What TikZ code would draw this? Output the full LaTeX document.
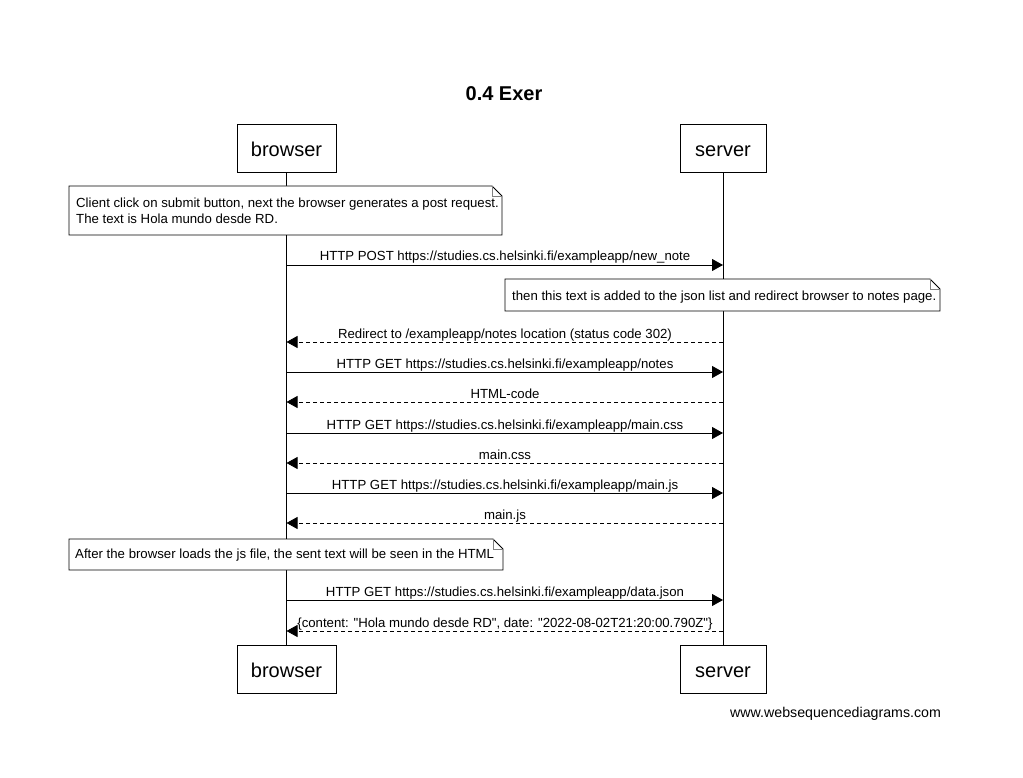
\documentclass[tikz,border=0pt]{standalone}
\usepackage{fontspec}
\setmainfont{Liberation Sans}[Ligatures=TeXOff]
\usetikzlibrary{arrows.meta}

% Note with a folded top-right corner: x1, y1, x2, y2
\newcommand{\dognote}[4]{%
  \draw[line width=0.8pt,fill=white] (#1,#2) -- ({#3-10},#2) -- (#3,{#2+10}) -- (#3,#4) -- (#1,#4) -- cycle;
  \draw[line width=0.6pt,gray] ({#3-10},#2) -- ({#3-10},{#2+10}) -- (#3,{#2+10});%
}

\begin{document}
\begin{tikzpicture}[x=1pt,y=-1pt,
  actor/.style={draw,line width=0.8pt,fill=white,minimum height=48pt,inner sep=0pt,
                text height=17pt,text depth=0pt,font=\fontsize{20}{24}\selectfont},
  life/.style={line width=0.8pt},
  msg/.style={line width=0.8pt,-{Triangle[length=11pt,width=12pt]}},
  reply/.style={msg,dash pattern=on 4pt off 3pt},
  lbl/.style={font=\fontsize{13.2}{15}\selectfont,anchor=base,inner sep=0pt},
  notetext/.style={font=\fontsize{13.2}{16}\selectfont,anchor=base west,inner sep=0pt,align=left},
]
\useasboundingbox[fill=white] (0,0) rectangle (1023,778);

% title
\node[font=\bfseries\fontsize{20}{24}\selectfont,anchor=base,inner sep=0pt] (title) at (504,100.5) {0.4 Exer};

% participants
\node[actor,minimum width=99pt] (bt) at (286.5,148) {browser};
\node[actor,minimum width=86pt] (st) at (723,148) {server};
\node[actor,minimum width=99pt] (bb) at (286.5,669) {browser};
\node[actor,minimum width=86pt] (sb) at (723,669) {server};

% lifelines
\draw[life] (bt.south) -- (bb.north);
\draw[life] (st.south) -- (sb.north);

% notes
\dognote{69}{186}{502}{235}
\node[notetext] (n1a) at (76,207.5) {Client click on submit button, next the browser generates a post request.};
\node[notetext] (n1b) at (76,223.5) {The text is Hola mundo desde RD.};

\dognote{505}{279}{940}{311}
\node[notetext] (n2) at (512,300) {then this text is added to the json list and redirect browser to notes page.};

\dognote{69}{539}{503}{570}
\node[notetext] (n3) at (75,558.5) {After the browser loads the js file, the sent text will be seen in the HTML};

% anchor points on the lifelines
\foreach \i/\y in {1/265,2/342,3/372,4/402,5/433,6/463,7/493,8/523,9/600,10/631}{
  \coordinate (b\i) at (286.5,\y);
  \coordinate (s\i) at (723,\y);
}

% messages
\draw[msg] (b1) -- (s1);
\node[lbl] (m1) at (505,261) {HTTP POST https://studies.cs.helsinki.fi/exampleapp/new\_note};

\draw[reply] (s2) -- (b2);
\node[lbl] (m2) at (505,338) {Redirect to /exampleapp/notes location (status code 302)};

\draw[msg] (b3) -- (s3);
\node[lbl] (m3) at (505,368) {HTTP GET https://studies.cs.helsinki.fi/exampleapp/notes};

\draw[reply] (s4) -- (b4);
\node[lbl] (m4) at (505,398) {HTML-code};

\draw[msg] (b5) -- (s5);
\node[lbl] (m5) at (505,429) {HTTP GET https://studies.cs.helsinki.fi/exampleapp/main.css};

\draw[reply] (s6) -- (b6);
\node[lbl] (m6) at (505,459) {main.css};

\draw[msg] (b7) -- (s7);
\node[lbl] (m7) at (505,489) {HTTP GET https://studies.cs.helsinki.fi/exampleapp/main.js};

\draw[reply] (s8) -- (b8);
\node[lbl] (m8) at (505,519) {main.js};

\draw[msg] (b9) -- (s9);
\node[lbl] (m9) at (505,596) {HTTP GET https://studies.cs.helsinki.fi/exampleapp/data.json};

\draw[reply] (s10) -- (b10);
\node[lbl] (m10) at (505,627) {\{content: "Hola mundo desde RD", date: "2022-08-02T21:20:00.790Z"\}};

% footer
\node[font=\fontsize{14.2}{16}\selectfont,anchor=base west,inner sep=0pt] (site) at (730,717) {www.websequencediagrams.com};
\end{tikzpicture}
\end{document}
